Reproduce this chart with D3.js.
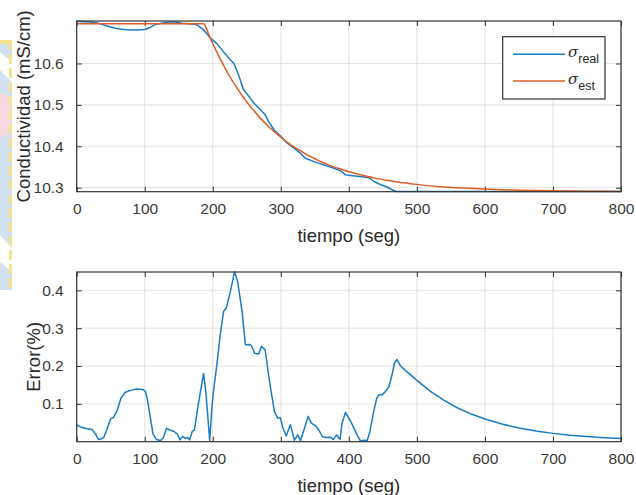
<!DOCTYPE html>
<html><head><meta charset="utf-8">
<script src="https://cdn.jsdelivr.net/npm/d3@7"></script>
<style>body{margin:0;background:#fff} text{font-family:"Liberation Sans",Arial,sans-serif}</style>
</head><body><svg id="c" width="636" height="495"></svg>
<script>
// ---- data ----
const xTicks = [0,100,200,300,400,500,600,700,800];
const topYTicks = [10.3,10.4,10.5,10.6];
const botYTicks = [0.1,0.2,0.3,0.4];

const realT = [0,10,20,30,40,50,60,70,80,90,100,108,115,125,135,145,155,165,172,178,186,196,206,216,223,231,238,245,253,260,270,277,282,290,300,309,319,329,336,349,363,378,388,395,405,417,430,437,447,457,466,472,500,600,700,800];
const realV = [10.702,10.701,10.700,10.698,10.693,10.688,10.684,10.682,10.681,10.681,10.682,10.687,10.694,10.697,10.700,10.700,10.697,10.696,10.695,10.692,10.682,10.662,10.648,10.628,10.614,10.600,10.572,10.537,10.521,10.505,10.488,10.476,10.460,10.440,10.424,10.408,10.396,10.383,10.371,10.363,10.355,10.347,10.341,10.331,10.329,10.327,10.324,10.315,10.307,10.301,10.293,10.2905,10.2905,10.2905,10.2905,10.2905];

const estT = [0,187.5,190,200,210,220,230,240,250,260,270,280,290,300,310,320,330,340,350,360,370,380,390,400,420,440,460,480,500,530,560,600,650,700,750,800];
const estV = [10.696,10.696,10.686,10.648,10.614,10.583,10.555,10.530,10.507,10.487,10.468,10.451,10.436,10.422,10.409,10.398,10.388,10.378,10.370,10.362,10.355,10.349,10.344,10.3385,10.330,10.3225,10.317,10.312,10.308,10.303,10.300,10.2966,10.294,10.2924,10.2915,10.2909];

const errT = [0,7,15,22,27,32,37,40,44,50,54,59,65,71,78,88,97,101,104,108,112,117,123,127,132,137,143,148,152,156,159,163,166,170,173,179,186.5,190,195.5,199,201,206,211,216,220,226,232,236.5,243,248,254,257,261.5,267.5,271.5,277,282,285.7,290.6,295.5,299.4,303,308,314,320,325,329,334,340,345,351,356,361,367,373,377,382,387,390,395,401.5,407,412,417,422,427,431,436,441,444,449,454,459,464,467,471,476,483.5,500,520,540,560,580,600,625,650,675,700,725,750,775,800];
const errV = [0.044,0.038,0.034,0.033,0.022,0.006,0.008,0.012,0.031,0.061,0.064,0.080,0.115,0.130,0.135,0.139,0.138,0.133,0.111,0.066,0.022,0.006,0.003,0.009,0.035,0.031,0.027,0.020,0.005,0.014,0.009,0.011,0.005,0.028,0.031,0.102,0.180,0.128,0.003,0.097,0.133,0.203,0.283,0.345,0.354,0.398,0.449,0.424,0.345,0.256,0.257,0.253,0.234,0.232,0.252,0.243,0.177,0.133,0.080,0.062,0.063,0.037,0.015,0.045,0.004,0.018,0.003,0.031,0.067,0.049,0.042,0.031,0.013,0.011,0.012,0.006,0.018,0.006,0.049,0.077,0.058,0.038,0.018,0.002,0.004,0.003,0.027,0.075,0.115,0.124,0.124,0.133,0.146,0.181,0.208,0.217,0.200,0.188,0.162,0.133,0.109,0.089,0.073,0.060,0.047,0.036,0.028,0.022,0.017,0.0135,0.0105,0.0082];

const seriesNames = ["real","est"];
const colors = ["#1a7cc6","#de5d27"];

// ---- drawing ----
const svg = d3.select("#c");
const AX = "#333333", GRID = "#e3e3e3";

// faint watermark at left edge
const wm = svg.append("g").attr("opacity",0.85);
wm.append("rect").attr("x",0).attr("y",40).attr("width",12).attr("height",250).attr("fill","#c9dcef");
wm.append("ellipse").attr("cx",3).attr("cy",115).attr("rx",8).attr("ry",22).attr("fill","#f6d3dc");
wm.append("path").attr("d","M0,52 L12,62 L12,82 L0,70Z").attr("fill","#fff");
wm.append("path").attr("d","M0,235 L12,248 L12,272 L0,262Z").attr("fill","#fff");
wm.append("line").attr("x1",10.5).attr("x2",10.5).attr("y1",40).attr("y2",290)
  .attr("stroke","#f4e07a").attr("stroke-width",3).attr("stroke-dasharray","10,4");
wm.append("rect").attr("x",0).attr("y",40).attr("width",12).attr("height",4).attr("fill","#f4e07a");

function panel(o){
  const g = svg.append("g");
  const x = d3.scaleLinear().domain([0,800]).range([76.7,621]);
  const y = d3.scaleLinear().domain(o.yDom).range([o.bottom,o.top]);
  const [x0,x1] = x.range();
  // grid
  g.selectAll(".gx").data(xTicks).join("line")
    .attr("x1",d=>x(d)).attr("x2",d=>x(d)).attr("y1",o.top).attr("y2",o.bottom)
    .attr("stroke",GRID).attr("stroke-width",1);
  g.selectAll(".gy").data(o.yTicks).join("line")
    .attr("x1",x0).attr("x2",x1).attr("y1",d=>y(d)).attr("y2",d=>y(d))
    .attr("stroke",GRID).attr("stroke-width",1);
  // axes via d3.axis (ticks inside)
  const bx = g.append("g").attr("transform",`translate(0,${o.bottom})`)
    .call(d3.axisBottom(x).tickValues(xTicks).tickSizeInner(-5).tickSizeOuter(0).tickPadding(11).tickFormat(d3.format("d")));
  const tx = g.append("g").attr("transform",`translate(0,${o.top})`)
    .call(d3.axisTop(x).tickValues(xTicks).tickSizeInner(-5).tickSizeOuter(0).tickFormat(""));
  const ly = g.append("g").attr("transform",`translate(${x0},0)`)
    .call(d3.axisLeft(y).tickValues(o.yTicks).tickSizeInner(-5).tickSizeOuter(0).tickPadding(13).tickFormat(o.fmt));
  const ry = g.append("g").attr("transform",`translate(${x1},0)`)
    .call(d3.axisRight(y).tickValues(o.yTicks).tickSizeInner(-5).tickSizeOuter(0).tickFormat(""));
  [bx,tx,ly,ry].forEach(a=>{
    a.select(".domain").remove();
    a.selectAll("line").attr("stroke",AX).attr("stroke-width",1);
    a.selectAll("text").attr("fill","#3a3a3a").style("font-size","15.5px").style("font-family","'Liberation Sans',Arial,sans-serif");
  });
  // clip
  const cid = "clip"+o.id;
  svg.append("clipPath").attr("id",cid).append("rect")
    .attr("x",x0).attr("y",o.top-1).attr("width",x1-x0).attr("height",o.bottom-o.top+2);
  const lines = g.append("g").attr("clip-path",`url(#${cid})`);
  o.series.forEach(s=>{
    const pts = s.t.map((t,i)=>[t,s.v[i]]);
    lines.append("path").datum(pts)
      .attr("d",d3.line().x(d=>x(d[0])).y(d=>y(d[1])).curve(s.curve||d3.curveLinear))
      .attr("fill","none").attr("stroke",s.color).attr("stroke-width",1.5).attr("stroke-linejoin","round");
  });
  // box
  g.append("rect").attr("x",x0).attr("y",o.top).attr("width",x1-x0).attr("height",o.bottom-o.top)
    .attr("fill","none").attr("stroke",AX).attr("stroke-width",1.2);
  // labels
  g.append("text").attr("x",(x0+x1)/2).attr("y",o.xlabY).attr("text-anchor","middle")
    .attr("fill","#2a2a2a").style("font-size","18.5px").text("tiempo (seg)");
  g.append("text").attr("transform",`translate(${o.ylabX},${(o.top+o.bottom)/2}) rotate(-90)`)
    .attr("text-anchor","middle").attr("dominant-baseline","central")
    .attr("fill","#2a2a2a").style("font-size","18.5px").text(o.ylab);
  return {x,y};
}

panel({id:1, top:21, bottom:191.7, yDom:[10.2903,10.7026], yTicks:topYTicks, fmt:d3.format(".1f"),
  xlabY:242, ylabX:23.5, ylab:"Conductividad (mS/cm)",
  series:[{t:realT,v:realV,color:colors[0]},{t:estT,v:estV,color:colors[1],curve:d3.curveMonotoneX}]});

panel({id:2, top:272, bottom:441.7, yDom:[0,0.4485], yTicks:botYTicks, fmt:d3.format(".1f"),
  xlabY:492, ylabX:33.5, ylab:"Error(%)",
  series:[{t:errT,v:errV,color:colors[0]}]});

// legend
const lg = svg.append("g");
lg.append("rect").attr("x",502.7).attr("y",36.7).attr("width",102.3).attr("height",62.3)
  .attr("fill","#fff").attr("stroke",AX).attr("stroke-width",1.2);
seriesNames.forEach((n,i)=>{
  const yy = 54.3 + i*26.7;
  lg.append("line").attr("x1",513).attr("x2",565).attr("y1",yy).attr("y2",yy)
    .attr("stroke",colors[i]).attr("stroke-width",1.5);
  const t = lg.append("text").attr("x",568).attr("y",yy+3).attr("fill","#2a2a2a");
  t.append("tspan").style("font-size","15px").style("font-style","italic").style("font-family","'DejaVu Serif',serif").text("σ");
  t.append("tspan").attr("dy",6).style("font-size","12.5px").text(n);
});
</script></body></html>
